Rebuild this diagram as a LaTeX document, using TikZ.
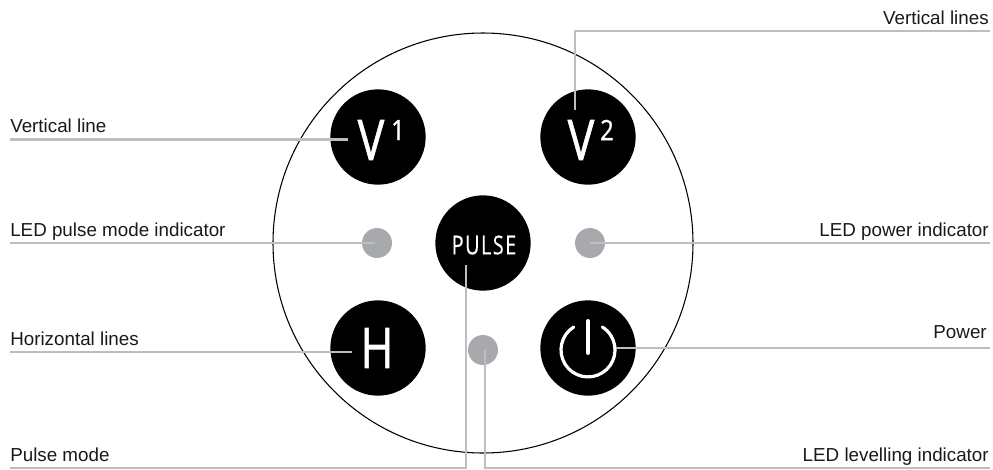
\documentclass[tikz,border=0pt]{standalone}
\usepackage{fontspec}
\setmainfont{Liberation Sans}
\newfontfamily\btnfont[FakeBold=1.2]{Open Sans}
\newfontfamily\btnthin[FakeBold=0.3]{Open Sans}
\definecolor{leader}{HTML}{BDBEC0}
\definecolor{ledgray}{HTML}{A7A9AC}
\definecolor{labelink}{HTML}{1A1A1A}
\tikzset{
  px/.style={x=0.75pt,y=-0.75pt},
  housing/.style={circle,draw=black,line width=0.8pt,minimum size=315pt,inner sep=0pt},
  button/.style={circle,fill=black,minimum size=71.5pt,inner sep=0pt},
  led/.style={circle,fill=ledgray,minimum size=22.5pt,inner sep=0pt},
  leaderline/.style={draw=leader,line width=2.2pt},
  lbl/.style={inner sep=0pt,text=labelink,font=\fontsize{14.1pt}{16pt}\selectfont},
  lblL/.style={lbl,anchor=base west},
  lblR/.style={lbl,anchor=base east},
  glyph/.style={inner sep=0pt,text=white,anchor=center,xscale=0.8,font=\btnfont\fontsize{42pt}{44pt}\selectfont},
  supglyph/.style={inner sep=0pt,text=white,anchor=center,font=\btnfont\fontsize{21pt}{22pt}\selectfont,xscale=0.85},
  pulseglyph/.style={inner sep=0pt,text=white,anchor=center,font=\btnthin\fontsize{19.5pt}{20pt}\selectfont,xscale=0.76},
  powerline/.style={draw=white,line width=2.4pt,line cap=round}
}
\begin{document}
\begin{tikzpicture}[px]
\useasboundingbox (0,0) rectangle (993,469);
\fill[white] (0,0) rectangle (993,469);
\node[housing] (housing) at (483,243) {};
\node[button] (v1) at (378,137) {};
\node[button] (v2) at (588,137) {};
\node[button] (pulse) at (483,243) {};
\node[button] (h) at (378,348) {};
\node[button] (power) at (588,348) {};
\node[led] (ledp) at (377,243) {};
\node[led] (ledr) at (590,243) {};
\node[led] (ledl) at (483,350) {};
% glyphs
\node[glyph] (v1g) at (371,140) {V};
\node[supglyph] (v1s) at (398,130) {1};
\node[glyph] (v2g) at (581,140) {V};
\node[supglyph] (v2s) at (607,130) {2};
\node[glyph] (hg) at (377,348) {H};
\node[pulseglyph] (pg) at (484,245) {P\kern1.5pt U\kern1.5pt L\kern1.5pt S\kern1.5pt E};
\draw[powerline] (573.7,327) arc[start angle=-122,end angle=-418,radius=27];
\draw[powerline,line width=3pt] (588,321) -- (588,353);
% labels
\node[lblR] (tv2) at (989,24) {Vertical lines};
\node[lblL] (tv1) at (10,132.5) {Vertical line};
\node[lblL] (tlp) at (10,236) {LED pulse mode indicator};
\node[lblR] (tlr) at (989,236) {LED power indicator};
\node[lblL] (th) at (10,345) {Horizontal lines};
\node[lblR] (tp) at (987,338) {Power};
\node[lblL] (tpm) at (10,461) {Pulse mode};
\node[lblR] (tll) at (989,461) {LED levelling indicator};
% connector end points
\coordinate (v1a) at (348,139.5); \coordinate (v1b) at (10,139.5);
\coordinate (v2a) at (575,110); \coordinate (v2b) at (575,31); \coordinate (v2c) at (990,31);
\coordinate (lpa) at (375,243); \coordinate (lpb) at (10,243);
\coordinate (lra) at (590,243); \coordinate (lrb) at (990,243);
\coordinate (ha) at (352,352); \coordinate (hb) at (10,352);
\coordinate (pa) at (616,348); \coordinate (pb) at (990,348);
\coordinate (pma) at (466,265); \coordinate (pmb) at (466,468); \coordinate (pmc) at (10,468);
\coordinate (lla) at (485,350); \coordinate (llb) at (485,468); \coordinate (llc) at (990,468);
% connectors
\draw[leaderline] (v1a) -- (v1b);
\draw[leaderline] (v2a) -- (v2b) -- (v2c);
\draw[leaderline] (lpa) -- (lpb);
\draw[leaderline] (lra) -- (lrb);
\draw[leaderline] (ha) -- (hb);
\draw[leaderline] (pa) -- (pb);
\draw[leaderline] (pma) -- (pmb) -- (pmc);
\draw[leaderline] (lla) -- (llb) -- (llc);
\end{tikzpicture}
\end{document}
